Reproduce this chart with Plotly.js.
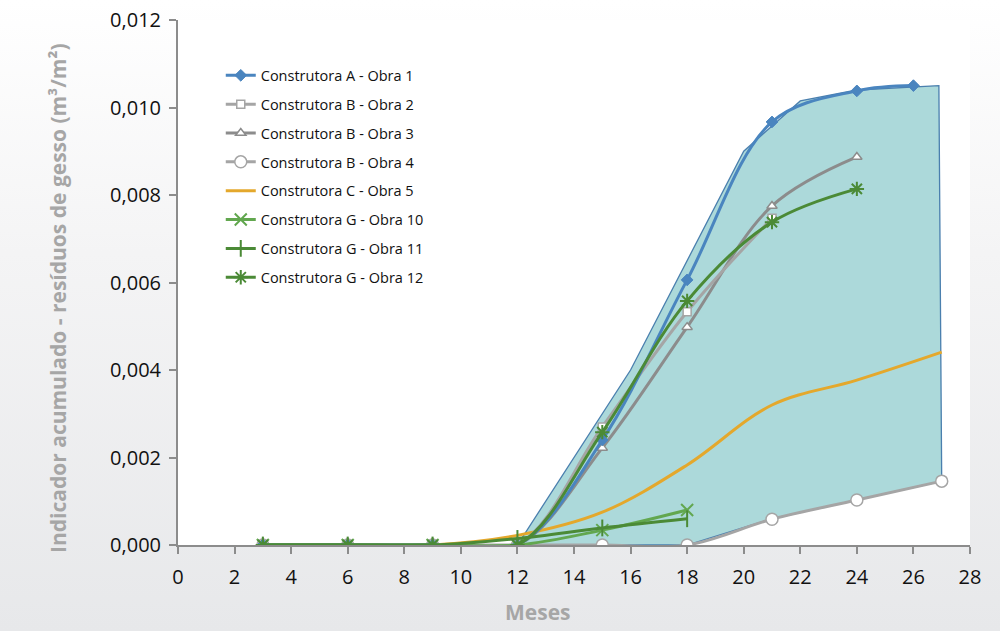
<!DOCTYPE html>
<html>
<head>
<meta charset="utf-8">
<script src="https://cdn.plot.ly/plotly-3.0.1.min.js"></script>
<style>
  html, body { margin: 0; padding: 0; width: 1004px; height: 633px; overflow: hidden; background: #ffffff; }
  #bg { position: absolute; left: 0; top: 0; width: 1000px; height: 631px;
        background: linear-gradient(to bottom, #ffffff 0%, #f4f4f5 40%, #e7e8ea 100%); }
  #chart { position: absolute; left: 0; top: 0; width: 1004px; height: 633px; }
</style>
</head>
<body>
<div id="bg"></div>
<div id="chart"></div>
<script>
// ---- Data ----
const xTicks = [0, 2, 4, 6, 8, 10, 12, 14, 16, 18, 20, 22, 24, 26, 28];
const yTicks = [0, 0.002, 0.004, 0.006, 0.008, 0.010, 0.012];

const xTitle = "Meses";
const yTitle = "Indicador acumulado - resíduos de gesso (m³/m²)";

const seriesNames = [
  "Construtora A - Obra 1",
  "Construtora B - Obra 2",
  "Construtora B - Obra 3",
  "Construtora B - Obra 4",
  "Construtora C - Obra 5",
  "Construtora G - Obra 10",
  "Construtora G - Obra 11",
  "Construtora G - Obra 12"
];

const obra1X = [3, 6, 9, 12, 15, 18, 21, 24, 26];
const obra1Y = [0, 0, 0, 0, 0.0024, 0.00606, 0.00967, 0.01038, 0.0105];

const obra2X = [3, 6, 9, 12, 15, 18, 21];
const obra2Y = [0, 0, 0, 0, 0.0027, 0.00533, 0.00747];

const obra3X = [3, 6, 9, 12, 15, 18, 21, 24];
const obra3Y = [0, 0, 0, 0, 0.00222, 0.00498, 0.00775, 0.00887];

const obra4X = [3, 6, 9, 12, 15, 18, 21, 24, 27];
const obra4Y = [0, 0, 0, 0, 0, 0, 0.00059, 0.00103, 0.00146];

const obra5X = [3, 6, 9, 12, 15, 18, 21, 24, 27];
const obra5Y = [0, 0, 0, 0.00022, 0.00075, 0.00183, 0.0032, 0.00377, 0.00441];

const obra10X = [3, 6, 9, 12, 15, 18];
const obra10Y = [0, 0, 0, 0, 0.00034, 0.0008];

const obra11X = [3, 6, 9, 12, 15, 18];
const obra11Y = [0, 0, 0, 0.00015, 0.00039, 0.0006];

const obra12X = [3, 6, 9, 12, 15, 18, 21, 24];
const obra12Y = [0, 0, 0, 0, 0.00258, 0.00558, 0.00738, 0.00814];

// envelope (shaded band)
const envX = [12, 16, 20, 22, 24, 26.9, 27, 24, 21, 18, 12];
const envY = [0, 0.004, 0.009, 0.01015, 0.0104, 0.0105, 0.00146, 0.00103, 0.0006, 0, 0];

// ---- Styling ----
const blue = "#4a85bf";
const grayL = "#a5a5a5";
const grayD = "#8c8c8c";
const gold = "#e4a82c";
const greenL = "#62a74f";
const greenD = "#4b8a36";

function line(name, x, y, color, width, marker, group) {
  const t = {
    type: "scatter", mode: marker ? "lines+markers" : "lines",
    name: name, x: x, y: y, legendgroup: group,
    line: { color: color, width: width, shape: "spline", smoothing: 1 },
    hoverinfo: "x+y+name"
  };
  if (marker) t.marker = marker;
  return t;
}

const traces = [
  {
    type: "scatter", mode: "lines", x: envX, y: envY, fill: "toself",
    fillcolor: "#acd9da", line: { color: "#4a7fae", width: 1.3 },
    showlegend: false, hoverinfo: "skip"
  },
  line(seriesNames[4], obra5X, obra5Y, gold, 3, null, "g5"),
  line(seriesNames[3], obra4X, obra4Y, grayL, 3,
       { symbol: "circle", size: 12, color: "#ffffff", line: { color: grayL, width: 1.5 } }, "g4"),
  line(seriesNames[2], obra3X, obra3Y, grayD, 3,
       { symbol: "triangle-up", size: 9, color: "#ffffff", line: { color: grayD, width: 1.5 } }, "g3"),
  line(seriesNames[1], obra2X, obra2Y, grayL, 3,
       { symbol: "square", size: 8, color: "#ffffff", line: { color: grayL, width: 1.5 } }, "g2"),
  line(seriesNames[0], obra1X, obra1Y, blue, 3,
       { symbol: "diamond", size: 9, color: blue, line: { color: blue, width: 1 } }, "g1"),
  line(seriesNames[5], obra10X, obra10Y, greenL, 3,
       { symbol: "x-thin-open", size: 12, color: greenL, line: { color: greenL, width: 2 } }, "g6"),
  line(seriesNames[6], obra11X, obra11Y, greenD, 3,
       { symbol: "line-ns-open", size: 12, color: greenD, line: { color: greenD, width: 2 } }, "g7"),
  line(seriesNames[7], obra12X, obra12Y, greenD, 3,
       { symbol: "asterisk-open", size: 12, color: greenD, line: { color: greenD, width: 2 } }, "g8")
];

// legend order: Obra 1,2,3,4,5,10,11,12
const legendRank = { g1: 1, g2: 2, g3: 3, g4: 4, g5: 5, g6: 6, g7: 7, g8: 8 };
traces.forEach(t => { if (t.legendgroup) t.legendrank = legendRank[t.legendgroup]; });

const tickFont = { family: "Open Sans, Noto Sans, sans-serif", size: 20, color: "#111111" };
const titleFont = { family: "Open Sans, Noto Sans, sans-serif", size: 21, color: "#a6a6a6", weight: "bold" };

const layout = {
  width: 1004, height: 633,
  margin: { l: 178, r: 34, t: 20, b: 88 },
  paper_bgcolor: "rgba(0,0,0,0)",
  plot_bgcolor: "#ffffff",
  separators: ",.",
  showlegend: true,
  legend: {
    x: 0.054, y: 0.925, xanchor: "left", yanchor: "top",
    bgcolor: "rgba(0,0,0,0)",
    traceorder: "grouped", tracegroupgap: 7,
    font: { family: "Open Sans, Noto Sans, sans-serif", size: 14.5, color: "#111111" }
  },
  xaxis: {
    range: [0, 28], tickvals: xTicks, ticktext: xTicks.map(String),
    showgrid: false, zeroline: false,
    showline: true, linecolor: "#8c8c8c", linewidth: 2,
    ticks: "outside", ticklen: 7, tickwidth: 2, tickcolor: "#8c8c8c",
    ticklabelstandoff: 6,
    tickfont: tickFont
  },
  yaxis: {
    range: [0, 0.012], tickvals: yTicks, tickformat: ".3f",
    showgrid: false, zeroline: false,
    showline: true, linecolor: "#8c8c8c", linewidth: 2,
    ticks: "outside", ticklen: 7, tickwidth: 2, tickcolor: "#8c8c8c",
    ticklabelstandoff: 4,
    tickfont: tickFont
  },
  annotations: [
    { text: xTitle, xref: "paper", yref: "paper", x: 0.4545, y: -0.1276,
      xanchor: "center", yanchor: "middle", showarrow: false, font: titleFont },
    { text: yTitle, xref: "paper", yref: "paper", x: -0.1515, y: 0.4705, textangle: -90,
      xanchor: "center", yanchor: "middle", showarrow: false, font: titleFont }
  ]
};

Plotly.newPlot("chart", traces, layout, { displayModeBar: false, staticPlot: true });
</script>
</body>
</html>
